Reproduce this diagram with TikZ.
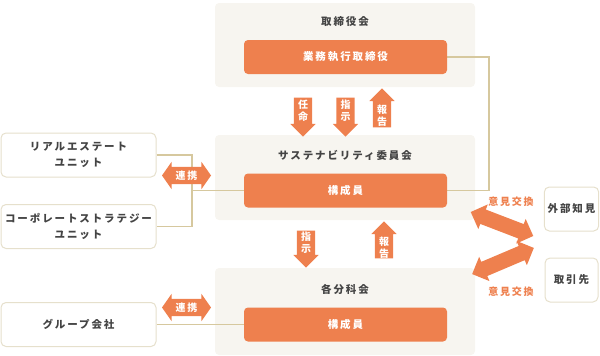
\documentclass[tikz,border=0pt]{standalone}
\usepackage{fontspec}
\setmainfont{Noto Sans CJK JP}[LetterSpace=18]
\usetikzlibrary{shapes.arrows, positioning}
\definecolor{AccentOrange}{RGB}{238,128,78}
\definecolor{PanelBeige}  {RGB}{247,245,240}
\definecolor{BoxBorder}   {RGB}{230,224,204}
\definecolor{LinkTan}     {RGB}{214,200,158}
\definecolor{TextGray}    {RGB}{68,68,68}

\begin{document}
\begin{tikzpicture}[
  x=1pt, y=-1pt,
  panel/.style = {
    rectangle, rounded corners=4pt,
    fill=PanelBeige, minimum width=260pt, inner sep=0pt
  },
  title/.style = {font=\fontsize{10.5}{12}\selectfont\bfseries, text=TextGray},
  member/.style = {
    rectangle, rounded corners=4pt,
    fill=AccentOrange, minimum width=203pt, minimum height=34pt,
    font=\fontsize{10.5}{12}\selectfont\bfseries, text=white
  },
  unit/.style = {
    rectangle, rounded corners=5pt,
    fill=white, draw=BoxBorder, line width=1pt,
    minimum width=155pt, minimum height=44pt, align=center,
    font=\fontsize{10.5}{16}\selectfont\bfseries, text=TextGray
  },
  partner/.style = {unit, minimum width=53pt},
  vflow/.style = {
    single arrow, fill=AccentOrange, inner sep=9pt,
    minimum height=39pt, single arrow head extend=3.5pt
  },
  coop/.style = {
    double arrow, fill=AccentOrange, inner sep=8.5pt,
    minimum height=49pt, double arrow head extend=5pt,
    double arrow tip angle=110
  },
  exchange/.style = {
    double arrow, fill=AccentOrange, inner sep=7.5pt,
    minimum height=67pt, double arrow head extend=5.5pt
  },
  arrowtext/.style = {
    font=\fontsize{10}{12}\selectfont\bfseries, text=white,
    align=center, inner sep=0pt
  },
  exchtext/.style = {font=\fontsize{10}{12}\selectfont\bfseries, text=AccentOrange},
  link/.style = {draw=LinkTan, line width=1.5pt}
]
\useasboundingbox (0,0) rectangle (600,356);

% Panels
\node[panel, minimum height=84pt] (board) at (345,45) {};
\node[panel, minimum height=85pt] (committee) at (345,177.5) {};
\node[panel, minimum height=87pt] (subcomm) at (345,311.5) {};

\node[title] (boardtitle) at (345,22) {取締役会};
\node[title] (committeetitle) at (345,155) {サステナビリティ委員会};
\node[title] (subcommtitle) at (345,289) {各分科会};

% Left and right boxes
\node[unit] (realestate) at (78.5,155) {リアルエステート\\ユニット};
\node[unit] (strategy) at (78.5,226.5) {コーポレートストラテジー\\ユニット};
\node[unit] (group) at (78.5,324.5) {グループ会社};

\node[partner] (expert) at (571.5,209) {外部知見};
\node[partner] (client) at (571.5,280) {取引先};

% Connectors
\coordinate (leftjoin) at (192,190.5);
\draw[link] (realestate.east) -| (leftjoin) |- (strategy.east);
\draw[link] (leftjoin) -- (345,190.5);
\draw[link] (group.east) -- (345,324.5);
\draw[link] (447,57) -- (489,57) |- (447,190.5);

% Member boxes
\node[member] (execdir) at (345.5,57) {業務執行取締役};
\node[member] (members1) at (345.5,190.5) {構成員};
\node[member] (members2) at (345.5,324.5) {構成員};

% Vertical flows
\node[vflow, rotate=-90] (appoint) at (303,112.5) {};
\node[arrowtext] at ([yshift=2pt]appoint.center) {任\\命};
\node[vflow, rotate=-90] (instruct1) at (345.5,112.5) {};
\node[arrowtext] at ([yshift=2pt]instruct1.center) {指\\示};
\node[vflow, rotate=90] (report1) at (382,112.5) {};
\node[arrowtext] at ([yshift=-3pt]report1.center) {報\\告};

\node[vflow, rotate=-90, minimum height=37pt] (instruct2) at (306,244.5) {};
\node[arrowtext] at ([yshift=2pt]instruct2.center) {指\\示};
\node[vflow, rotate=90, minimum height=37pt] (report2) at (384,244.5) {};
\node[arrowtext] at ([yshift=-3pt]report2.center) {報\\告};

% Cooperation
\node[coop] (coop1) at (186.5,175.5) {};
\node[arrowtext] at (coop1.center) {連携};
\node[coop] (coop2) at (186.5,307.5) {};
\node[arrowtext] at (coop2.center) {連携};

% Exchange of views
\node[exchange, rotate=-21] (exch1) at (502,224) {};
\node[exchange, rotate=23] (exch2) at (503,261) {};
\node[exchtext] at (511,202) {意見交換};
\node[exchtext] at (511,292) {意見交換};

\end{tikzpicture}
\end{document}
